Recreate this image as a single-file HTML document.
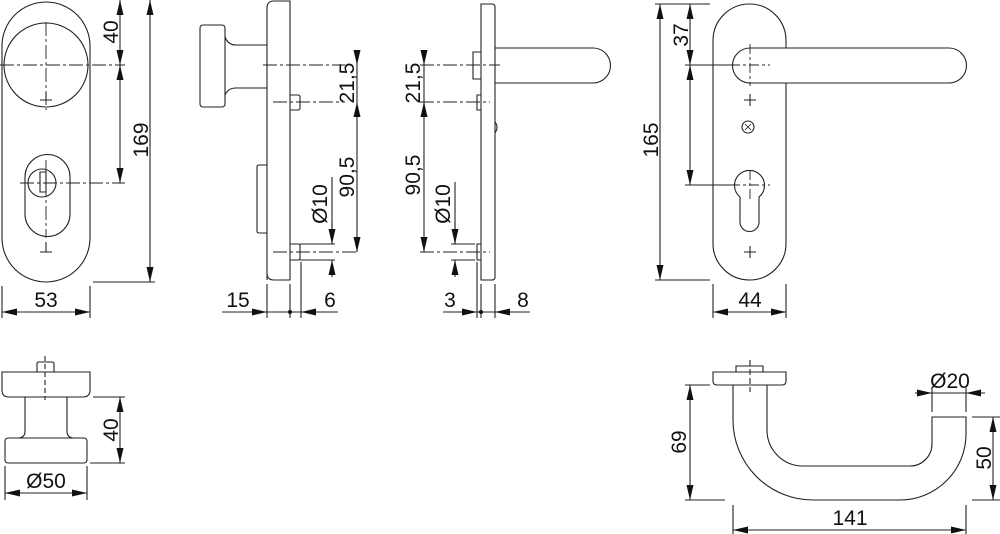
<!DOCTYPE html>
<html><head><meta charset="utf-8"><style>
html,body{margin:0;padding:0;background:#fff;}
svg{display:block;}
text{font-family:"Liberation Sans",Arial,sans-serif;font-size:21px;fill:#111;}
</style></head><body>
<svg width="1000" height="534" viewBox="0 0 1000 534" xmlns="http://www.w3.org/2000/svg">
<defs>
<marker id="a" markerUnits="userSpaceOnUse" markerWidth="16" markerHeight="8" refX="15" refY="3.5" orient="auto-start-reverse">
<path d="M0,0 L15,3.5 L0,7 z" fill="#111"/>
</marker>
</defs>
<g fill="none" stroke="#222" stroke-width="1.1">
<!-- View 1 front knob plate -->
<rect x="2" y="2" width="88" height="280" rx="44" ry="44"/>
<circle cx="46" cy="65" r="42"/>
<path d="M25,177 A22,22 0 0 1 70,177 L70,214 A22,22 0 0 1 25,214 Z"/>
<circle cx="42" cy="183" r="14"/>
<path d="M40,172 h6 v20 h-6 z"/>
<path d="M46,252 v-10 M40,252 h12 M40,100 h12 M46,100 v-8"/>
<path d="M0,65 H125 M46,22 V110 M20,183 H125 M46,160 V238" stroke-dasharray="14,3,3,3" stroke-width="0.9"/>
<path d="M93,282 H155 M2,286 V318 M90,286 V318"/>
<line x1="120" y1="0" x2="120" y2="65" marker-start="url(#a)" marker-end="url(#a)"/>
<line x1="120" y1="65" x2="120" y2="183" marker-start="url(#a)" marker-end="url(#a)"/>
<line x1="150" y1="0" x2="150" y2="282" marker-start="url(#a)" marker-end="url(#a)"/>
<line x1="2" y1="312" x2="90" y2="312" marker-start="url(#a)" marker-end="url(#a)"/>

<!-- View 2 side knob -->
<path d="M267,280 V8 Q267,1 274,1 H290 V280 H274 Q267,280 267,273 Z"/>
<rect x="200" y="25" width="25" height="82" rx="3"/>
<path d="M225,37 Q228,45 236,45 H267 M225,95 Q228,88 236,88 H267"/>
<path d="M290,95 H298 Q300,95 300,97 V108 Q300,110 298,110 H290"/>
<path d="M267,165 H259 Q257,165 257,167 V231 Q257,233 259,233 H267"/>
<path d="M290,244 H298 Q300,244 300,246 V258 Q300,260 298,260 H290"/>
<path d="M263,65 H345 M273,102 H345 M273,252 H357" stroke-dasharray="14,3,3,3" stroke-width="0.9"/>
<path d="M300,244 H335 M300,260 H335 M332,177 V244"/>
<line x1="357" y1="50" x2="357" y2="65" marker-end="url(#a)"/>
<line x1="357" y1="65" x2="357" y2="102"/>
<line x1="357" y1="102" x2="357" y2="252" marker-start="url(#a)" marker-end="url(#a)"/>
<line x1="332" y1="222" x2="332" y2="244" marker-end="url(#a)"/>
<line x1="332" y1="277" x2="332" y2="260" marker-end="url(#a)"/>
<path d="M267,284 V318 M290,284 V318 M301,262 V318"/>
<line x1="222" y1="312" x2="267" y2="312" marker-end="url(#a)"/>
<line x1="267" y1="312" x2="301" y2="312"/>
<line x1="338" y1="312" x2="301" y2="312" marker-end="url(#a)"/>

<!-- View 3 side lever -->
<path d="M481,280 V4 H492 Q495,4 495,7 V277 Q495,280 492,280 Z"/>
<path d="M495,48 H593 A17.5,17.5 0 0 1 593,83 H495"/>
<path d="M481,52 H473 V79 H481"/>
<path d="M481,95 H477 V110 H481 M481,244 H477 V260 H481"/>
<path d="M495,122 Q499,127 495,133"/>
<path d="M420,65 H500 M420,102 H490 M420,252 H490" stroke-dasharray="14,3,3,3" stroke-width="0.9"/>
<path d="M451,244 H475 M451,260 H475 M455,182 V244"/>
<line x1="424" y1="50" x2="424" y2="65" marker-end="url(#a)"/>
<line x1="424" y1="65" x2="424" y2="102"/>
<line x1="424" y1="102" x2="424" y2="252" marker-start="url(#a)" marker-end="url(#a)"/>
<line x1="455" y1="222" x2="455" y2="244" marker-end="url(#a)"/>
<line x1="455" y1="277" x2="455" y2="260" marker-end="url(#a)"/>
<path d="M477,262 V318 M481,284 V318 M495,284 V318"/>
<line x1="443" y1="312" x2="477" y2="312" marker-end="url(#a)"/>
<line x1="477" y1="312" x2="495" y2="312"/>
<line x1="530" y1="312" x2="495" y2="312" marker-end="url(#a)"/>

<!-- View 4 front lever -->
<rect x="713" y="4" width="73" height="276" rx="36.5" ry="36.5"/>
<path d="M750,48 H949 A17.5,17.5 0 0 1 949,83 H750 A17.5,17.5 0 0 1 750,48 Z" fill="#fff"/>
<path d="M730,65 H770 M750,44 V86" stroke-dasharray="10,3,3,3" stroke-width="0.9"/>
<path d="M744,100 h12 M750,94 v12 M744,252 h12 M750,246 v12"/>
<circle cx="748" cy="127" r="6"/>
<path d="M745,124 l6,6 M751,124 l-6,6" stroke-width="0.8"/>
<path d="M740,197 A15,15 0 1 1 759,197 L759,222 A9.5,9.5 0 0 1 740,222 Z"/>
<path d="M730,185 H770 M750,170 V200" stroke-dasharray="10,3,3,3" stroke-width="0.9"/>
<path d="M655,4 H710 M655,280 H710 M685,65 H730 M685,185 H730"/>
<line x1="660" y1="4" x2="660" y2="280" marker-start="url(#a)" marker-end="url(#a)"/>
<line x1="690" y1="4" x2="690" y2="65" marker-start="url(#a)" marker-end="url(#a)"/>
<line x1="690" y1="65" x2="690" y2="185" marker-start="url(#a)" marker-end="url(#a)"/>
<path d="M713,284 V318 M786,284 V318"/>
<line x1="713" y1="312" x2="786" y2="312" marker-start="url(#a)" marker-end="url(#a)"/>

<!-- View 5 knob top -->
<path d="M2,372 H90 V390 Q90,397 83,397 H9 Q2,397 2,390 Z"/>
<path d="M37,372 V364 Q37,362 39,362 H52 Q54,362 54,364 V372"/>
<path d="M45,356 V400" stroke-dasharray="5,3"/>
<path d="M25,397 V431 Q25,438 18,438 M67,397 V431 Q67,438 74,438"/>
<rect x="5" y="438" width="82" height="25" rx="3"/>
<path d="M93,397 H125 M90,463 H125 M5,466 V500 M87,466 V500"/>
<line x1="120" y1="397" x2="120" y2="463" marker-start="url(#a)" marker-end="url(#a)"/>
<line x1="5" y1="493" x2="87" y2="493" marker-start="url(#a)" marker-end="url(#a)"/>

<!-- View 6 lever top -->
<path d="M713,372 H786 V381 Q786,385 782,385 H717 Q713,385 713,381 Z"/>
<path d="M736,372 V366 H763 V372"/>
<path d="M750,360 V392" stroke-dasharray="6,3"/>
<path d="M733,385 V420 A80,80 0 0 0 813,500 H900 A66,66 0 0 0 966,434 V417 H932 V444 A22,22 0 0 1 910,466 H803 A36,36 0 0 1 767,430 V385"/>
<path d="M685,385 H710 M685,500 H725 M972,417 H1000 M972,500 H1000 M932,388 V412 M966,388 V412 M733,505 V534 M966,505 V534"/>
<line x1="690" y1="385" x2="690" y2="500" marker-start="url(#a)" marker-end="url(#a)"/>
<line x1="993" y1="417" x2="993" y2="500" marker-start="url(#a)" marker-end="url(#a)"/>
<line x1="915" y1="393" x2="932" y2="393" marker-end="url(#a)"/>
<line x1="932" y1="393" x2="966" y2="393"/>
<line x1="985" y1="393" x2="966" y2="393" marker-end="url(#a)"/>
<line x1="733" y1="530" x2="966" y2="530" marker-start="url(#a)" marker-end="url(#a)"/>
</g>
<circle cx="290" cy="312" r="2" fill="#111"/>
<circle cx="481" cy="312" r="2" fill="#111"/>
<g>
<text transform="translate(118,32) rotate(-90)" text-anchor="middle">40</text>
<text transform="translate(148,140) rotate(-90)" text-anchor="middle">169</text>
<text x="46" y="307" text-anchor="middle">53</text>
<text transform="translate(354,83) rotate(-90)" text-anchor="middle">21,5</text>
<text transform="translate(354,177) rotate(-90)" text-anchor="middle">90,5</text>
<text transform="translate(327,204) rotate(-90)" text-anchor="middle">Ø10</text>
<text x="238" y="307" text-anchor="middle">15</text>
<text x="330" y="307" text-anchor="middle">6</text>
<text transform="translate(420,83) rotate(-90)" text-anchor="middle">21,5</text>
<text transform="translate(420,175) rotate(-90)" text-anchor="middle">90,5</text>
<text transform="translate(450,204) rotate(-90)" text-anchor="middle">Ø10</text>
<text x="450" y="307" text-anchor="middle">3</text>
<text x="523" y="307" text-anchor="middle">8</text>
<text transform="translate(688,35) rotate(-90)" text-anchor="middle">37</text>
<text transform="translate(658,140) rotate(-90)" text-anchor="middle">165</text>
<text x="750" y="307" text-anchor="middle">44</text>
<text transform="translate(118,430) rotate(-90)" text-anchor="middle">40</text>
<text x="46" y="488" text-anchor="middle">Ø50</text>
<text transform="translate(686,442) rotate(-90)" text-anchor="middle">69</text>
<text transform="translate(991,458) rotate(-90)" text-anchor="middle">50</text>
<text x="950" y="388" text-anchor="middle">Ø20</text>
<text x="850" y="525" text-anchor="middle">141</text>
</g>
</svg>
</body></html>
